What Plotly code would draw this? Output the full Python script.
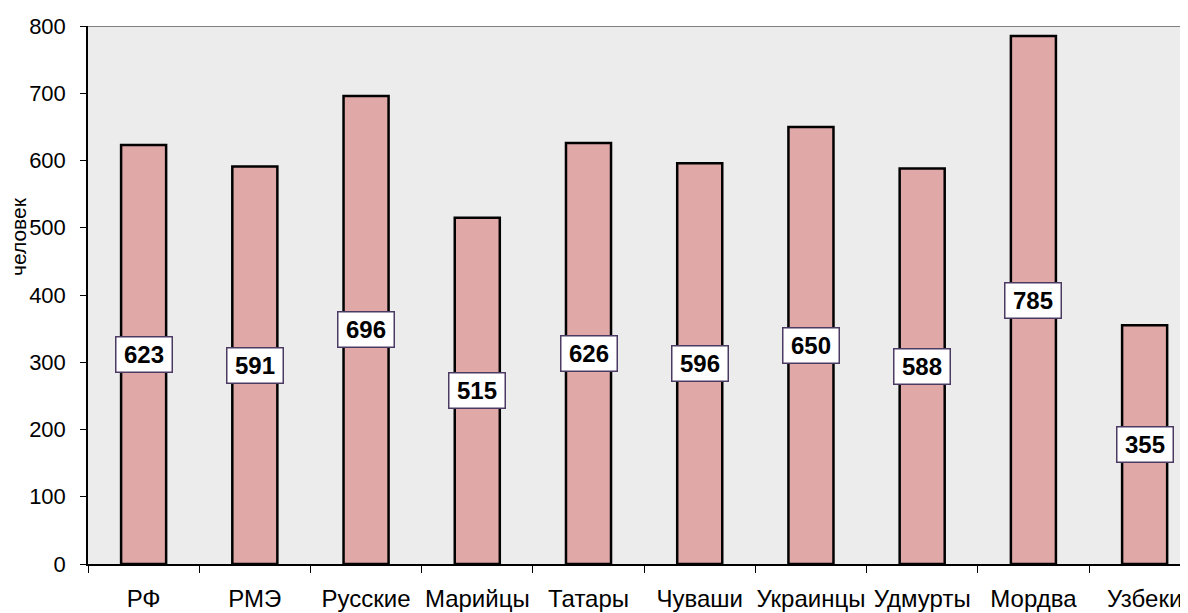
import plotly.graph_objects as go

categories = ["РФ", "РМЭ", "Русские", "Марийцы", "Татары", "Чуваши", "Украинцы", "Удмурты", "Мордва", "Узбеки"]
values = [623, 591, 696, 515, 626, 596, 650, 588, 785, 355]
y_ticks = [0, 100, 200, 300, 400, 500, 600, 700, 800]
y_title = "человек"

FONT = "Liberation Sans, Arial, sans-serif"

# page has an 8px body margin; plot area should sit at x 88..1188, y 26..564
fig = go.Figure()
fig.add_trace(go.Bar(
    x=categories, y=values, width=0.405,
    marker=dict(color="#E1A8A8", line=dict(color="#000000", width=2.5)),
    hoverinfo="x+y",
))

for c, v in zip(categories, values):
    fig.add_annotation(
        x=c, y=v / 2, text=f"<b>{v}</b>", showarrow=False,
        font=dict(family=FONT, size=24, color="#000000"),
        bgcolor="#FFFFFF", bordercolor="#4B3B63", borderwidth=1.5,
        borderpad=1, width=53, height=32, xref="x", yref="y",
    )

fig.add_annotation(
    xref="paper", yref="paper", x=(18 - 88) / 1100, y=(564 - 237) / 538,
    text=y_title, textangle=-90, showarrow=False,
    font=dict(family=FONT, size=21, color="#000000"),
    xanchor="center", yanchor="middle",
)

fig.add_shape(type="line", xref="paper", yref="y", x0=0, x1=1, y0=800, y1=800,
              line=dict(color="#808080", width=2))

fig.update_layout(
    width=1180, height=605,
    margin=dict(l=80, r=0, t=18, b=49, autoexpand=False),
    paper_bgcolor="#FFFFFF", plot_bgcolor="#ECECEC",
    showlegend=False,
    font=dict(family=FONT, color="#000000"),
)
fig.update_xaxes(
    range=[-0.5, 9.39], tickson="boundaries", ticks="outside", ticklen=7,
    tickwidth=1, tickcolor="#000000", showline=True, linecolor="#000000",
    linewidth=1.5, showgrid=False, tickfont=dict(family=FONT, size=24),
    tickangle=0, automargin=False,
    ticklabelstandoff=12, fixedrange=True,
)
fig.update_yaxes(
    range=[0, 800], tickvals=y_ticks, ticks="outside", ticklen=6,
    tickwidth=1, tickcolor="#000000", showline=True, linecolor="#000000",
    linewidth=1.5, showgrid=False, zeroline=False, automargin=False,
    tickfont=dict(family=FONT, size=22), ticklabelstandoff=10,
    fixedrange=True,
)

fig.write_html("out.html")
